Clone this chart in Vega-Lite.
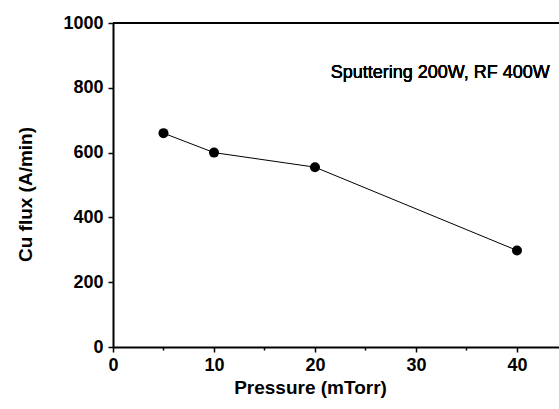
{
  "$schema": "https://vega.github.io/schema/vega-lite/v6.json",
  "width": 446,
  "height": 324,
  "autosize": {"type": "none"},
  "padding": {"left": 113, "top": 23, "right": 0, "bottom": 62},
  "background": "white",
  "config": {
    "view": {"stroke": null},
    "font": "Liberation Sans",
    "axis": {
      "domainColor": "black",
      "domainWidth": 2,
      "tickColor": "black",
      "tickWidth": 1.5,
      "labelColor": "black",
      "labelFont": "Liberation Sans",
      "labelFontWeight": "bold",
      "labelFontSize": 18,
      "titleFont": "Liberation Sans",
      "titleFontWeight": "bold",
      "titleFontSize": 19,
      "titleColor": "black",
      "grid": false
    }
  },
  "data": {
    "values": [
      {"pressure": 5, "flux": 660},
      {"pressure": 10, "flux": 600},
      {"pressure": 20, "flux": 555},
      {"pressure": 40, "flux": 298}
    ]
  },
  "layer": [
    {
      "mark": {"type": "line", "color": "black", "strokeWidth": 1},
      "encoding": {
        "x": {
          "field": "pressure",
          "type": "quantitative",
          "scale": {"domain": [0, 44.16], "nice": false},
          "axis": {
            "orient": "bottom",
            "title": "Pressure (mTorr)",
            "values": [0, 5, 10, 15, 20, 25, 30, 35, 40],
            "labelExpr": "datum.value % 10 === 0 ? datum.label : ''",
            "tickSize": {"expr": "datum.value % 10 === 0 ? 5 : 3"},
            "labelPadding": 4,
            "labelFlush": false,
            "titleX": 197,
            "titleY": 46,
            "titleAlign": "center",
            "titleBaseline": "alphabetic",
            "titleFontSize": 19
          }
        },
        "y": {
          "field": "flux",
          "type": "quantitative",
          "scale": {"domain": [0, 1000], "nice": false},
          "axis": {
            "title": "Cu flux (A/min)",
            "values": [0, 100, 200, 300, 400, 500, 600, 700, 800, 900, 1000],
            "labelExpr": "datum.value % 200 === 0 ? datum.label : ''",
            "tickSize": {"expr": "datum.value % 200 === 0 ? 5 : 3"},
            "labelPadding": 5,
            "labelFlush": false,
            "format": "d",
            "titleX": -82,
            "titleY": 171,
            "titleAngle": -90,
            "titleAlign": "center",
            "titleBaseline": "alphabetic"
          }
        }
      }
    },
    {
      "mark": {"type": "point", "filled": true, "color": "black", "size": 100, "opacity": 1},
      "encoding": {
        "x": {"field": "pressure", "type": "quantitative"},
        "y": {"field": "flux", "type": "quantitative"}
      }
    },
    {
      "mark": {"type": "rule", "color": "black", "strokeWidth": 2},
      "encoding": {
        "y": {"datum": 1000}
      }
    },
    {
      "mark": {"type": "text", "font": "Liberation Sans", "fontSize": 18, "color": "black", "align": "center", "baseline": "middle"},
      "encoding": {
        "x": {"datum": 32.4},
        "y": {"datum": 845},
        "text": {"value": "Sputtering 200W, RF 400W"}
      }
    }
  ]
}
